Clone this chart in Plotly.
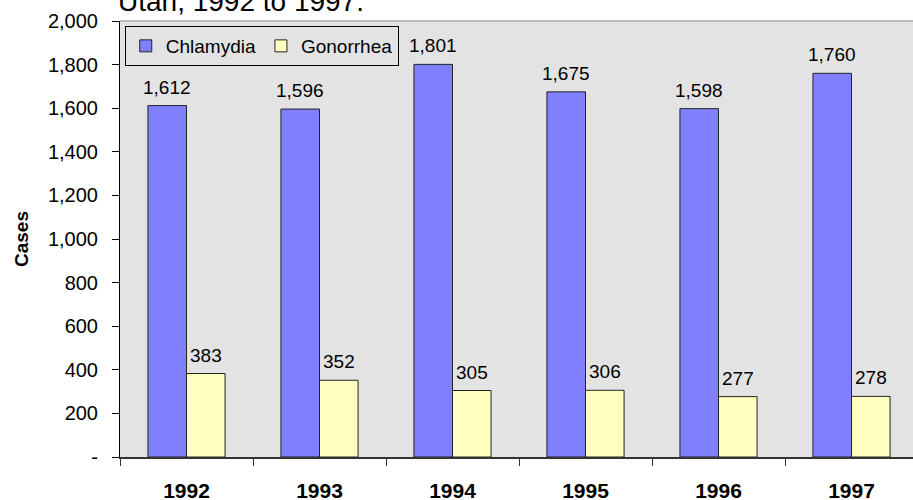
import plotly.graph_objects as go

years = ["1992", "1993", "1994", "1995", "1996", "1997"]
chlamydia = [1612, 1596, 1801, 1675, 1598, 1760]
gonorrhea = [383, 352, 305, 306, 277, 278]
y_tickvals = [0, 200, 400, 600, 800, 1000, 1200, 1400, 1600, 1800, 2000]
y_ticktext = ["-", "200", "400", "600", "800", "1,000", "1,200", "1,400", "1,600", "1,800", "2,000"]
title_text = "Utah, 1992 to 1997."

FONT = "Liberation Sans, Arial, sans-serif"
BLUE = "#8080FF"
YELLOW = "#FFFFC0"

fig = go.Figure()
fig.add_trace(go.Bar(name="Chlamydia", x=years, y=chlamydia,
                     marker=dict(color=BLUE, line=dict(color="#222222", width=1))))
fig.add_trace(go.Bar(name="Gonorrhea", x=years, y=gonorrhea,
                     marker=dict(color=YELLOW, line=dict(color="#222222", width=1))))

annotations = []
for i, (c, g) in enumerate(zip(chlamydia, gonorrhea)):
    # x is the category's serial index on the category axis
    annotations.append(dict(x=i, y=c, xref="x", yref="y", text=f"{c:,}", showarrow=False,
                            yanchor="bottom", xanchor="center", xshift=-19.25, yshift=6,
                            font=dict(family=FONT, size=19, color="black")))
    annotations.append(dict(x=i, y=g, xref="x", yref="y", text=f"{g:,}", showarrow=False,
                            yanchor="bottom", xanchor="center", xshift=19.25, yshift=6,
                            font=dict(family=FONT, size=19, color="black")))
annotations.append(dict(x=0, y=1, xref="paper", yref="paper", text=title_text, showarrow=False,
                        xanchor="left", yanchor="bottom", yshift=2, xshift=-4,
                        font=dict(family=FONT, size=28, color="black")))

xmax = -0.5 + 793 / 133

fig.update_layout(
    width=913, height=500,
    margin=dict(l=120, r=0, t=21, b=43, pad=0, autoexpand=False),
    paper_bgcolor="white",
    plot_bgcolor="#E3E3E3",
    barmode="group",
    bargap=0.42,
    bargroupgap=0,
    font=dict(family=FONT, size=20, color="black"),
    showlegend=True,
    legend=dict(orientation="h", x=0.006, y=0.9885, xanchor="left", yanchor="top",
                bgcolor="rgba(0,0,0,0)", bordercolor="black", borderwidth=1,
                font=dict(family=FONT, size=19, color="black"), traceorder="normal"),
    xaxis=dict(type="category", range=[-0.5, xmax], tickson="boundaries", automargin=False,
               ticks="outside", ticklen=7, tickcolor="#333333", tickwidth=1,
               showline=True, linecolor="#333333", linewidth=1.5, showgrid=False,
               tickfont=dict(family=FONT, size=21, color="black", weight="bold"),
               ticklabelstandoff=14, zeroline=False),
    yaxis=dict(range=[0, 2000], tickvals=y_tickvals, ticktext=y_ticktext, automargin=False,
               ticks="outside", ticklen=7, tickcolor="black", tickwidth=1,
               showline=True, linecolor="black", linewidth=1, showgrid=False, zeroline=False,
               tickfont=dict(family=FONT, size=20, color="black"), ticklabelstandoff=10,
               title=dict(text="<b>Cases</b>", font=dict(family=FONT, size=19, color="black"),
                          standoff=14)),
    xaxis2=dict(overlaying="x", anchor="y", range=[-0.5, xmax], automargin=False,
                tickvals=[0.5, 1.5, 2.5, 3.5, 4.5], ticks="inside", ticklen=7,
                tickcolor="#333333", tickwidth=1, showticklabels=False, showgrid=False,
                zeroline=False, showline=False, side="bottom"),
    yaxis2=dict(overlaying="y", anchor="x", range=[0, 2000], tickvals=y_tickvals, automargin=False,
                ticks="inside", ticklen=7, tickcolor="black", tickwidth=1,
                showticklabels=False, showgrid=False, zeroline=False, showline=False, side="left"),
    shapes=[dict(type="line", xref="paper", yref="paper", x0=0, x1=1, y0=1, y1=1,
                 line=dict(color="#A8A8A8", width=1.5))],
    annotations=annotations,
)

# remove the browser's default 8px body margin so the figure fills the window exactly
fig.write_html("out.html", config={"displayModeBar": False},
               post_script="document.body.style.margin='0';")
